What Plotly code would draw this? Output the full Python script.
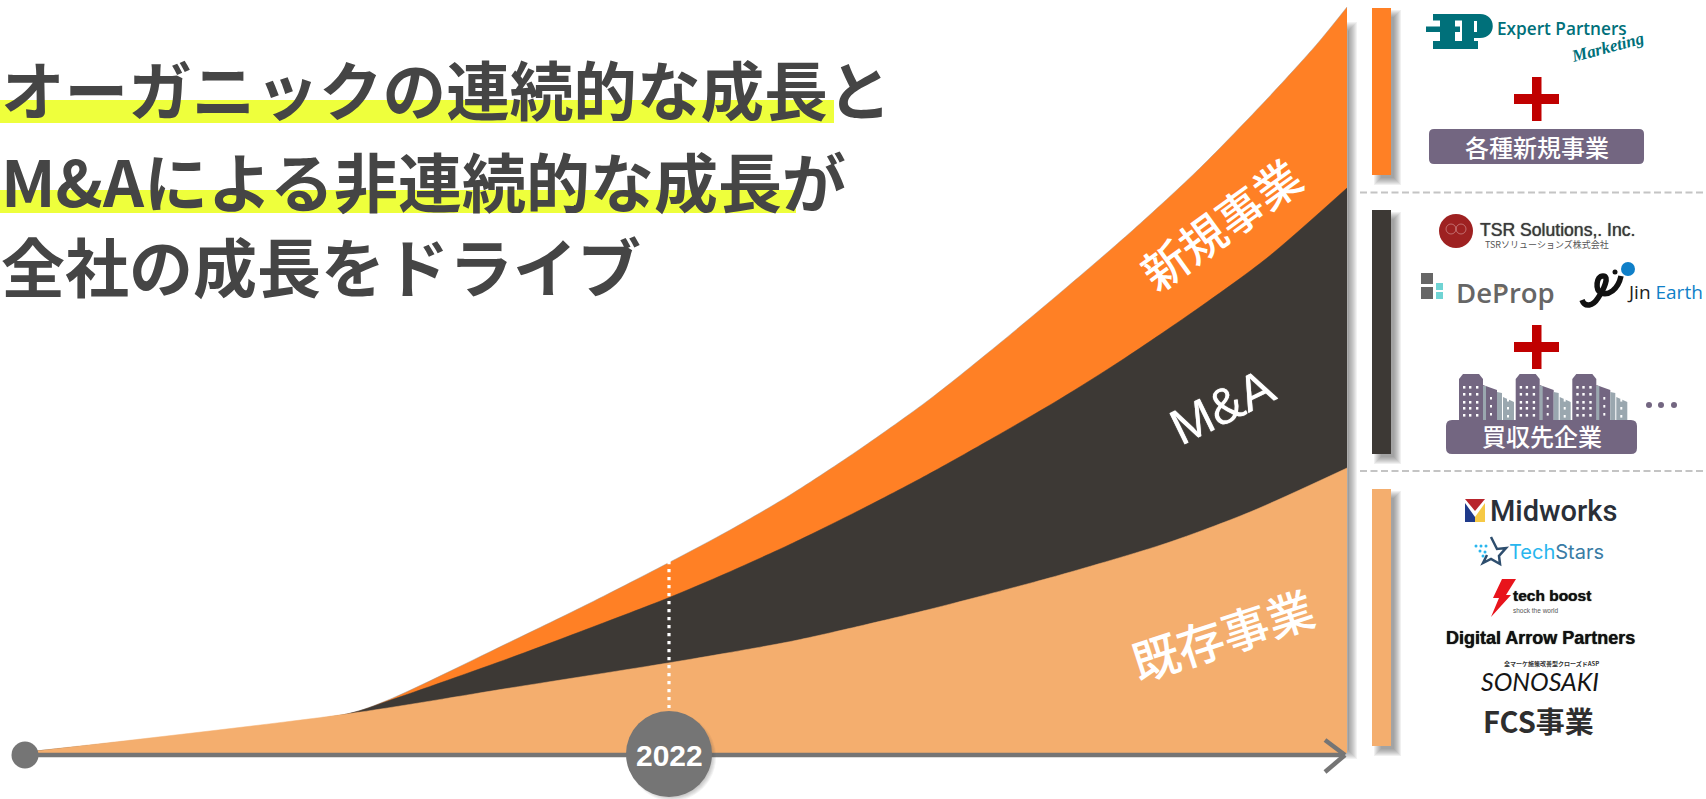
import plotly.graph_objects as go

W, H = 1706, 799
BASE = 753  # pixel row of the zero line of the growth axes

# Growth curves: horizontal position along the timeline and stacked height above it
new_x = [27, 347, 388, 510, 590, 670, 730, 790, 860, 930, 1000, 1067, 1133, 1200, 1267, 1317, 1347]
new_h = [1, 39, 53, 111, 150, 191, 223, 258, 304, 354, 410, 466, 523, 585, 654, 709, 746]
ma_x = [27, 347, 388, 510, 590, 668, 727, 793, 860, 927, 993, 1060, 1122, 1200, 1267, 1347]
ma_h = [1, 39, 52, 95, 125, 155, 180, 210, 243, 278, 315, 354, 393, 446, 495, 565]
base_x = [27, 347, 510, 668, 727, 793, 860, 927, 993, 1060, 1167, 1250, 1347]
base_h = [1, 39, 65, 90, 100, 112, 127, 143, 160, 178, 210, 241, 285]

title_lines = ["オーガニックの連続的な成長と", "M&Aによる非連続的な成長が", "全社の成長をドライブ"]
segment_labels = ["新規事業", "M&A", "既存事業"]
year_label = "2022"

ORANGE, DARK, TAN = "#FF8025", "#3D3935", "#F4AE6E"
GRAY, PURPLE, RED, TEAL = "#757575", "#736681", "#C00000", "#00707A"
CJK = "Noto Sans CJK JP"

shapes, notes = [], []


def fx(x):
    return x / W


def fy(y):
    return 1 - y / H


def rect(x0, y0, x1, y1, color, layer="above", opacity=1):
    shapes.append(dict(type="rect", xref="paper", yref="paper", x0=fx(x0), x1=fx(x1),
                       y0=fy(y0), y1=fy(y1), fillcolor=color, line_width=0,
                       layer=layer, opacity=opacity))


def circle(cx, cy, r, color, layer="above", opacity=1, outline=None):
    shapes.append(dict(type="circle", xref="paper", yref="paper", x0=fx(cx - r), x1=fx(cx + r),
                       y0=fy(cy - r), y1=fy(cy + r), fillcolor=color, layer=layer, opacity=opacity,
                       line=dict(color=outline or color, width=0.6 if outline else 0)))


def line(x0, y0, x1, y1, color, width, dash="solid", cap_layer="above"):
    shapes.append(dict(type="line", xref="paper", yref="paper", x0=fx(x0), x1=fx(x1),
                       y0=fy(y0), y1=fy(y1), layer=cap_layer,
                       line=dict(color=color, width=width, dash=dash)))


def path(cmds, fill=None, stroke=None, width=0):
    # cmds mixes command letters and (x, y) pixel pairs
    parts = []
    for c in cmds:
        if isinstance(c, str):
            parts.append(c)
        else:
            parts.append(f"{fx(c[0]):.5f},{fy(c[1]):.5f}")
    shapes.append(dict(type="path", xref="paper", yref="paper", path=" ".join(parts),
                       fillcolor=fill or "rgba(0,0,0,0)", layer="above",
                       line=dict(color=stroke or "rgba(0,0,0,0)", width=width)))


def poly(points, fill):
    cmds = ["M", points[0]]
    for p in points[1:]:
        cmds += ["L", p]
    cmds.append("Z")
    path(cmds, fill=fill)


def rounded(x0, y0, x1, y1, r, color):
    path(["M", (x0 + r, y0), "L", (x1 - r, y0), "Q", (x1, y0), (x1, y0 + r), "L", (x1, y1 - r),
          "Q", (x1, y1), (x1 - r, y1), "L", (x0 + r, y1), "Q", (x0, y1), (x0, y1 - r),
          "L", (x0, y0 + r), "Q", (x0, y0), (x0 + r, y0), "Z"], fill=color)


def soft_shadow(x0, y0, x1, y1, dx=6, dy=6, blur=8, strength=0.085):
    for k in range(blur):
        g = blur / 2 - k
        rect(x0 + dx - g, y0 + dy - g, x1 + dx + g, y1 + dy + g, "#555555", layer="below", opacity=strength)


def text(x, y, s, size, color, family=CJK, weight=400, angle=0, anchor="center", thicken=False):
    font = dict(size=size, color=color, family=family, weight=weight)
    if thicken:
        font["shadow"] = f"0 0 1px {color}"
    notes.append(dict(xref="paper", yref="paper", x=fx(x), y=fy(y), text=s, showarrow=False,
                      font=font, textangle=angle, xanchor=anchor, yanchor="middle", borderpad=0))


# Headline with its marker-pen highlights
rect(0, 100, 834, 123, "#EEFF3C", layer="below")
rect(0, 190, 796, 213, "#EEFF3C", layer="below")
for yc, size, s in zip([87, 179, 264], [63.6, 64, 64], title_lines):
    text(0, yc, s, size, "#454545", weight=700, anchor="left")

# Soft shadow along the right edge of the stacked area and the legend bars
soft_shadow(1340, 25, 1347, 752, dx=5, dy=2, blur=10, strength=0.075)
soft_shadow(1372, 8, 1391, 175)
soft_shadow(1372, 210, 1391, 454)
soft_shadow(1372, 489, 1391, 746)
rect(1372, 8, 1391, 175, ORANGE, layer="below")
rect(1372, 210, 1391, 454, DARK, layer="below")
rect(1372, 489, 1391, 746, TAN, layer="below")
line(1360, 192.5, 1706, 192.5, "#C4C4C4", 2, dash="7px,3.5px", cap_layer="below")
line(1360, 471, 1706, 471, "#C4C4C4", 2, dash="7px,3.5px", cap_layer="below")

# Timeline
line(27, 755, 1342, 755, GRAY, 4.5)
line(1325, 740, 1345, 755, GRAY, 4.5)
line(1325, 772, 1345, 755, GRAY, 4.5)
circle(25, 755, 13.5, GRAY)
line(669, 561, 669, 708, "#FFFFFF", 3.2, dash="3.2px,4.8px")
for k in range(6):
    circle(672, 757, 44 - k, "#555555", opacity=0.07)
circle(669, 754, 43, GRAY)
text(669, 755, year_label, 30, "#FFFFFF", family="Liberation Sans", weight=700)

# Labels on the bands
text(1220, 223, segment_labels[0], 46, "#FFFFFF", weight=500, angle=-36)
text(1222, 407, segment_labels[1], 50, "#FFFFFF", family="Liberation Sans", angle=-26, thicken=True)
text(1222, 633, segment_labels[2], 47, "#FFFFFF", weight=500, angle=-18)

# Upper group: Expert Partners mark and new businesses
for bx0, by0, bx1, by1 in [(1433, 14, 1480, 20.5), (1426, 26.5, 1460, 32), (1433, 41, 1478, 49),
                           (1440, 14, 1455, 49), (1462, 14, 1474, 49)]:
    rect(bx0, by0, bx1, by1, TEAL)
path(["M", (1474, 14), "L", (1480, 14), "C", (1497, 14), (1497, 38), (1480, 38), "L", (1474, 38), "Z"], fill=TEAL)
rect(1474, 21, 1477, 32, "#FFFFFF")
text(1496, 28, "Expert Partners", 17.2, TEAL, family="Open Sans", weight=600, anchor="left")
text(1607, 47, "<i>Marketing</i>", 17, TEAL, family="Liberation Serif", weight=700, angle=-15)
rect(1532, 77, 1541.5, 121, RED)
rect(1514, 94, 1559, 104, RED)
rounded(1429, 129, 1644, 164, 5, PURPLE)
text(1536.5, 146, "各種新規事業", 24, "#FFFFFF", weight=500)

# Middle group: acquired companies
circle(1456, 231, 17, "#9E2121")
circle(1451, 229, 5, "rgba(0,0,0,0)", outline="#D9A0A0")
circle(1461, 229, 5, "rgba(0,0,0,0)", outline="#D9A0A0")
text(1479, 230, "TSR Solutions,. Inc.", 17.6, "#3A3A3A", family="Liberation Sans", anchor="left", thicken=True)
text(1484, 244, "TSRソリューションズ株式会社", 9, "#555555", anchor="left")
rect(1421, 273, 1433, 284, "#666666")
rect(1421, 287, 1433, 299, "#666666")
rect(1436, 283, 1443, 290, "#70D4D4")
rect(1436, 292, 1443, 299, "#70D4D4")
text(1505, 292, "DeProp", 27.5, "#666666", family="Open Sans", weight=600)
poly([(1497, 285), (1505, 285), (1500, 291)], "#F2CFA0")
circle(1628, 269, 7, "#0F7FC8")
path(["M", (1582, 300), "C", (1585, 308), (1593, 306), (1598, 298), "C", (1604, 289), (1610, 276), (1603, 276),
      "C", (1596, 276), (1595, 290), (1601, 293), "C", (1608, 296), (1618, 290), (1621, 276)],
     stroke="#111111", width=5.5)
circle(1615, 272, 2.5, "#111111")
text(1626, 292, 'Jin <span style="color:#0F7FC8">Earth</span>', 19, "#222222", family="Open Sans", anchor="left")
rect(1532, 325, 1541.5, 369, RED)
rect(1514, 342, 1559, 352, RED)
for gx in [1459, 1515.7, 1572.3]:
    poly([(gx, 420), (gx, 379), (gx + 4, 374), (gx + 20, 374), (gx + 24, 379), (gx + 24, 420)], PURPLE)
    poly([(gx + 24, 420), (gx + 24, 385), (gx + 38, 390), (gx + 38, 420)], PURPLE)
    poly([(gx + 38, 420), (gx + 38, 392), (gx + 43, 393), (gx + 43, 420)], "#9AA7AF")
    poly([(gx + 44, 420), (gx + 44, 397), (gx + 55, 402), (gx + 55, 420)], "#9AA7AF")
    rect(gx + 24, 386, gx + 27, 420, "#9AA7AF")
    for wy in [386, 393, 401, 407, 414]:
        for wx in [4, 10, 17]:
            rect(gx + wx, wy, gx + wx + 2.4, wy + 2.6, "#FFFFFF")
    for wy in [397, 405, 413]:
        rect(gx + 31, wy, gx + 33, wy + 2.6, "#FFFFFF")
        rect(gx + 48, wy + 2, gx + 50, wy + 4.6, "#FFFFFF")
rounded(1446, 420, 1637, 454, 6, PURPLE)
text(1541.5, 436, "買収先企業", 24, "#FFFFFF", weight=500)
for dot_x in [1649, 1661, 1674]:
    circle(dot_x, 405, 3, PURPLE)

# Lower group: existing business brands
poly([(1465, 499), (1485, 499), (1475, 511)], "#B8242C")
poly([(1465, 503), (1475, 517), (1475, 522), (1465, 522)], "#1F3A8A")
poly([(1485, 503), (1475, 517), (1475, 522), (1485, 522)], "#F6C945")
text(1553.5, 511, "Midworks", 29, "#2A2F38", family="Roboto", weight=500)
path(["M", (1491, 537), "L", (1497, 549), "L", (1506, 548), "L", (1499, 556), "L", (1500, 564), "L", (1491, 559),
      "L", (1483, 563), "L", (1487, 555)], stroke="#2E4E6E", width=2.5)
for sx, sy in [(1476, 546), (1481, 546), (1486, 546), (1480, 551), (1485, 552), (1483, 556)]:
    circle(sx, sy, 1.5, "#29B6EE")
text(1556, 552, 'Tech<span style="color:#3A7CA5">Stars</span>', 20, "#29B6EE", family="Inter")
poly([(1502, 579), (1516, 579), (1506, 595), (1511, 595), (1491, 617), (1499, 598), (1493, 598)], "#E8141C")
text(1552, 595, "tech boost", 15.5, "#111111", family="Liberation Sans", weight=700, thicken=True)
text(1536, 610, "shock the world", 6.5, "#555555", family="Liberation Sans")
text(1540, 638, "Digital Arrow Partners", 18, "#111111", family="Liberation Sans", weight=700, thicken=True)
text(1551, 663, "全マーケ施策改善型クローズドASP", 6, "#333333", weight=700)
text(1540, 681, "<i>SONOSAKI</i>", 25, "#151515", family="Lato")
text(1538, 720, "FCS事業", 29, "#2E2E2E", weight=700)

fig = go.Figure()
edge = "rgba(150,150,150,0.45)"
fig.add_trace(go.Scatter(x=new_x, y=new_h, mode="lines", fill="tozeroy", fillcolor=ORANGE,
                         line=dict(color=edge, width=1, shape="spline", smoothing=0.8), hoverinfo="skip"))
fig.add_trace(go.Scatter(x=ma_x, y=ma_h, mode="lines", fill="tozeroy", fillcolor=DARK,
                         line=dict(color=DARK, width=0.5, shape="spline", smoothing=0.8), hoverinfo="skip"))
fig.add_trace(go.Scatter(x=base_x, y=base_h, mode="lines", fill="tozeroy", fillcolor=TAN,
                         line=dict(color=TAN, width=0.5, shape="spline", smoothing=0.8), hoverinfo="skip"))

fig.update_layout(
    width=W, height=H, margin=dict(l=0, r=0, t=0, b=0), showlegend=False,
    paper_bgcolor="#FFFFFF", plot_bgcolor="rgba(0,0,0,0)",
    xaxis=dict(range=[0, W], visible=False, fixedrange=True),
    yaxis=dict(range=[BASE - H, BASE], visible=False, fixedrange=True),
    shapes=shapes, annotations=notes,
)
fig.write_html("out.html", config={"displayModeBar": False})
